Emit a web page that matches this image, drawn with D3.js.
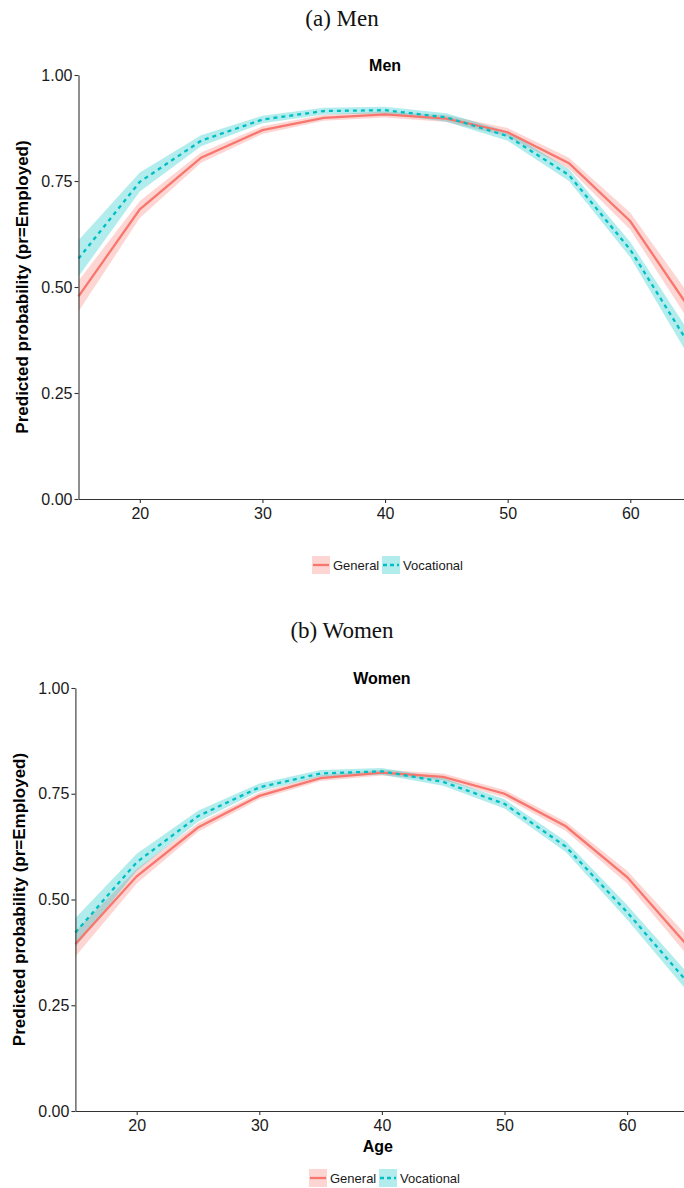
<!DOCTYPE html>
<html>
<head>
<meta charset="utf-8">
<script src="https://cdn.jsdelivr.net/npm/d3@7"></script>
<style>
  body { margin: 0; background: #fff; }
  svg { display: block; }
  text { font-family: "Liberation Sans", Arial, sans-serif; }
</style>
</head>
<body>
<svg id="chart" width="684" height="1188"></svg>
<script>
const ages = [15, 20, 25, 30, 35, 40, 45, 50, 55, 60, 65];
const yTicks = [0, 0.25, 0.5, 0.75, 1];
const xTicks = [20, 30, 40, 50, 60];
const groups = ["General", "Vocational"];

// men
const menGeneral   = [0.478, 0.683, 0.805, 0.870, 0.899, 0.907, 0.897, 0.865, 0.792, 0.655, 0.442];
const menGeneralLo = [0.442, 0.663, 0.793, 0.861, 0.892, 0.900, 0.889, 0.855, 0.779, 0.635, 0.410];
const menGeneralHi = [0.515, 0.703, 0.817, 0.879, 0.906, 0.914, 0.905, 0.875, 0.805, 0.675, 0.474];
const menVoc   = [0.567, 0.748, 0.845, 0.895, 0.915, 0.917, 0.900, 0.856, 0.764, 0.588, 0.355];
const menVocLo = [0.525, 0.725, 0.832, 0.886, 0.907, 0.909, 0.890, 0.845, 0.750, 0.570, 0.325];
const menVocHi = [0.610, 0.770, 0.858, 0.904, 0.923, 0.925, 0.910, 0.867, 0.778, 0.606, 0.385];

// women
const womenGeneral   = [0.395, 0.555, 0.670, 0.745, 0.787, 0.800, 0.790, 0.750, 0.673, 0.553, 0.388];
const womenGeneralLo = [0.365, 0.538, 0.660, 0.737, 0.780, 0.793, 0.782, 0.741, 0.662, 0.538, 0.365];
const womenGeneralHi = [0.425, 0.572, 0.680, 0.753, 0.794, 0.807, 0.798, 0.759, 0.684, 0.568, 0.411];
const womenVoc   = [0.422, 0.588, 0.697, 0.765, 0.798, 0.803, 0.778, 0.726, 0.625, 0.470, 0.302];
const womenVocLo = [0.388, 0.568, 0.684, 0.756, 0.790, 0.795, 0.769, 0.715, 0.612, 0.453, 0.280];
const womenVocHi = [0.456, 0.608, 0.710, 0.774, 0.806, 0.811, 0.787, 0.737, 0.638, 0.487, 0.324];

const colors = { General: "#F8766D", Vocational: "#00BFC4" };
const dashes = { General: null, Vocational: "4,4" };

const svg = d3.select("#chart");

function drawPanel(p) {
    const x = d3.scaleLinear().domain([15, 65]).range([p.left, p.right]);
    const y = d3.scaleLinear().domain([0, 1]).range([p.bottom, p.top]);

    // caption above panel
    svg.append("text")
        .attr("x", 342).attr("y", p.captionY)
        .attr("text-anchor", "middle")
        .style("font-family", "'Liberation Serif', 'DejaVu Serif', serif")
        .style("font-size", "23px")
        .attr("fill", "#111")
        .text(p.caption);

    svg.append("text")
        .attr("x", (p.left + p.right) / 2).attr("y", p.titleY)
        .attr("text-anchor", "middle")
        .style("font-size", "16px").style("font-weight", "bold")
        .attr("fill", "#000")
        .text(p.title);

    const series = [
        { key: "General", v: p.general, lo: p.generalLo, hi: p.generalHi },
        { key: "Vocational", v: p.voc, lo: p.vocLo, hi: p.vocHi }
    ];

    const area = d3.area()
        .x((d, i) => x(ages[i]))
        .y0(d => y(d[0]))
        .y1(d => y(d[1]));
    const line = d3.line()
        .x((d, i) => x(ages[i]))
        .y(d => y(d));

    const g = svg.append("g");
    series.forEach(s => {
        g.append("path")
            .datum(s.lo.map((l, i) => [l, s.hi[i]]))
            .attr("d", area)
            .attr("fill", colors[s.key])
            .attr("fill-opacity", 0.3);
    });
    series.forEach(s => {
        g.append("path")
            .datum(s.v)
            .attr("d", line)
            .attr("fill", "none")
            .attr("stroke", colors[s.key])
            .attr("stroke-width", 2.3)
            .attr("stroke-dasharray", dashes[s.key]);
    });

    // axes
    const yAxis = svg.append("g")
        .attr("transform", `translate(${p.left},0)`)
        .call(d3.axisLeft(y).tickValues(yTicks).tickFormat(d3.format(".2f"))
            .tickSize(4).tickSizeOuter(0).tickPadding(2));
    const xAxis = svg.append("g")
        .attr("transform", `translate(0,${p.bottom})`)
        .call(d3.axisBottom(x).tickValues(xTicks)
            .tickSize(4).tickSizeOuter(0).tickPadding(5));
    [yAxis, xAxis].forEach(a => {
        a.select(".domain").attr("stroke", "#333").attr("stroke-width", 1.1);
        a.selectAll(".tick line").attr("stroke", "#333").attr("stroke-width", 1.1);
        a.selectAll(".tick text").attr("fill", "#1a1a1a")
            .style("font-size", "16px").style("font-family", "'Liberation Sans', Arial, sans-serif");
    });

    svg.append("text")
        .attr("transform", `translate(${p.yLabelX},${(p.top + p.bottom) / 2}) rotate(-90)`)
        .attr("text-anchor", "middle")
        .style("font-size", "17px").style("font-weight", "bold")
        .attr("fill", "#000")
        .text("Predicted probability (pr=Employed)");

    if (p.xLabel) {
        svg.append("text")
            .attr("x", (p.left + p.right) / 2 - 4).attr("y", p.xLabelY)
            .attr("text-anchor", "middle")
            .style("font-size", "16px").style("font-weight", "bold")
            .attr("fill", "#000")
            .text(p.xLabel);
    }

    // legend
    const leg = svg.append("g").attr("transform", `translate(${p.legendX},${p.legendY})`);
    const offsets = [0, 70];
    groups.forEach((k, i) => {
        const item = leg.append("g").attr("transform", `translate(${offsets[i]},0)`);
        item.append("rect")
            .attr("x", 0).attr("y", -9).attr("width", 18).attr("height", 18)
            .attr("fill", colors[k]).attr("fill-opacity", 0.3);
        item.append("line")
            .attr("x1", 1).attr("x2", 17).attr("y1", 0).attr("y2", 0)
            .attr("stroke", colors[k]).attr("stroke-width", 2.3)
            .attr("stroke-dasharray", k === "Vocational" ? "4,3" : null);
        item.append("text")
            .attr("x", 21).attr("y", 4.5)
            .style("font-size", "13px")
            .attr("fill", "#1a1a1a")
            .text(k);
    });
}

drawPanel({
    caption: "(a) Men", captionY: 26, title: "Men", titleY: 71,
    left: 78.5, right: 691.6, top: 75, bottom: 499, yLabelX: 28,
    general: menGeneral, generalLo: menGeneralLo, generalHi: menGeneralHi,
    voc: menVoc, vocLo: menVocLo, vocHi: menVocHi,
    legendX: 312, legendY: 565
});

drawPanel({
    caption: "(b) Women", captionY: 638, title: "Women", titleY: 684,
    left: 75.4, right: 688.4, top: 688, bottom: 1111, yLabelX: 25,
    general: womenGeneral, generalLo: womenGeneralLo, generalHi: womenGeneralHi,
    voc: womenVoc, vocLo: womenVocLo, vocHi: womenVocHi,
    xLabel: "Age", xLabelY: 1152,
    legendX: 309, legendY: 1178
});
</script>
</body>
</html>
